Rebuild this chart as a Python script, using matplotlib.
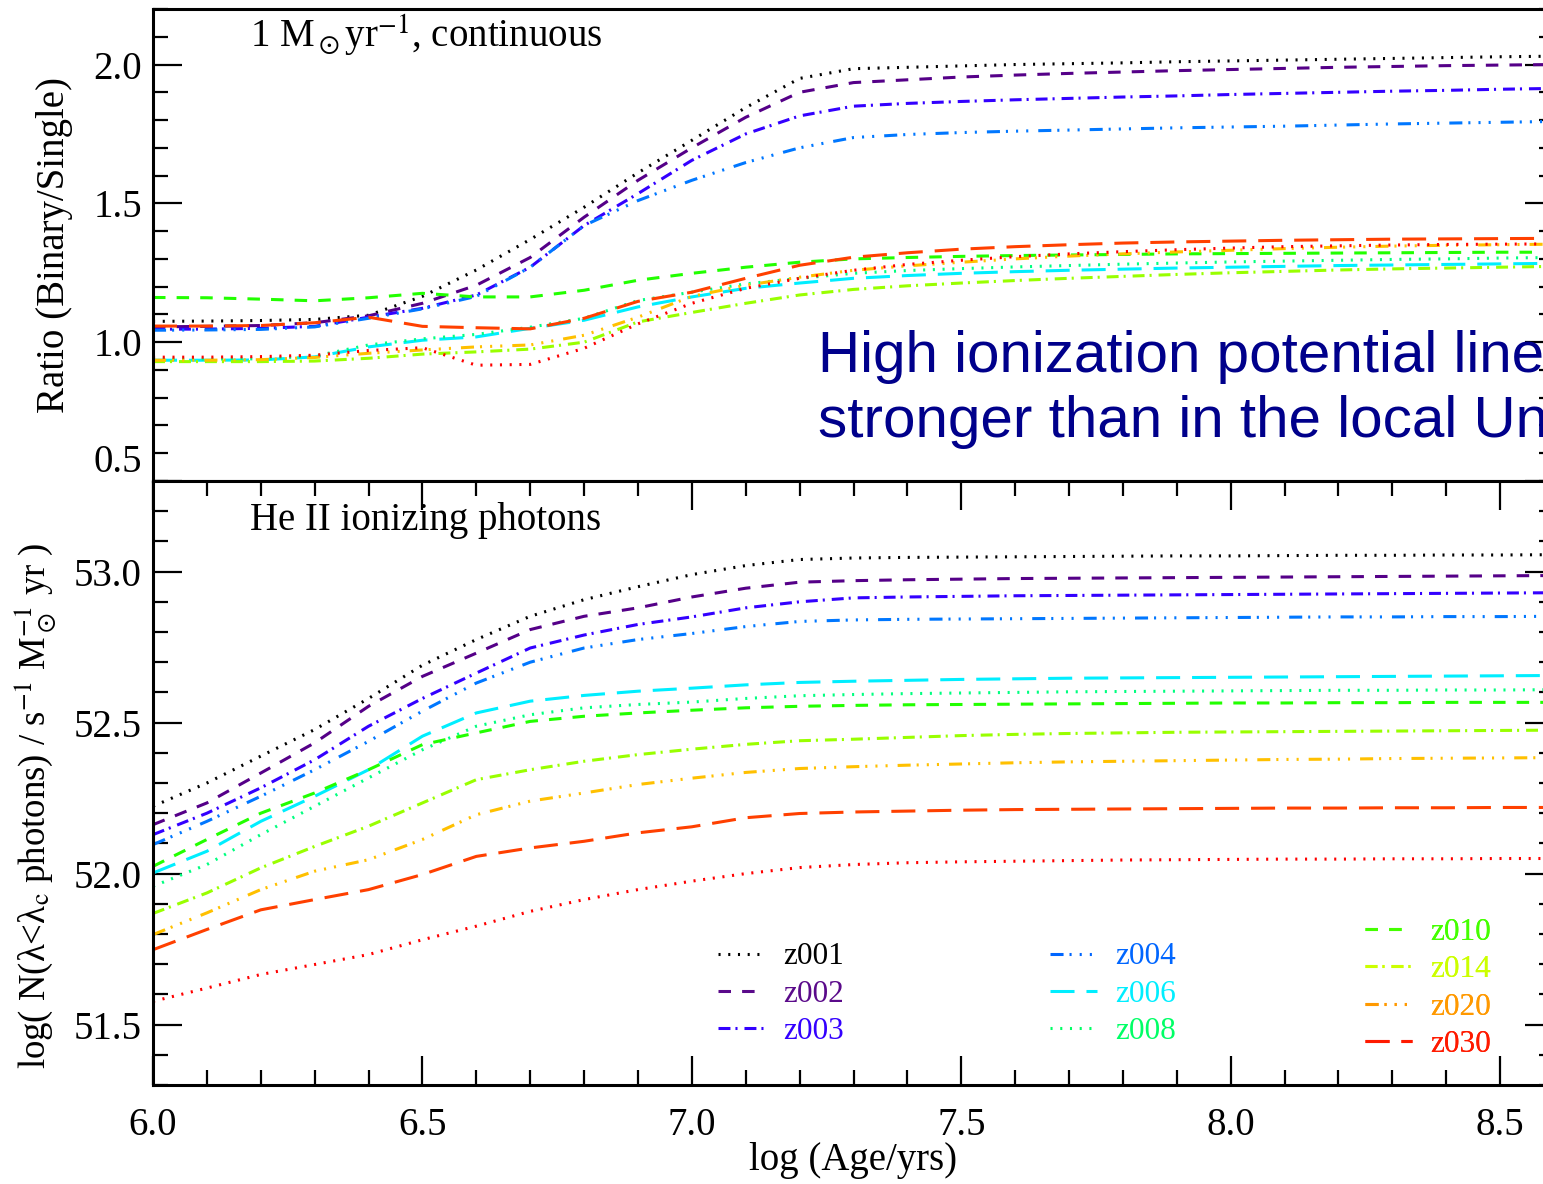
import matplotlib
matplotlib.use('Agg')
import matplotlib.pyplot as plt
from matplotlib.lines import Line2D
from matplotlib.ticker import MultipleLocator

plt.rcParams['font.family'] = ['Liberation Serif', 'DejaVu Serif']
plt.rcParams['mathtext.fontset'] = 'stix'
plt.rcParams['lines.scale_dashes'] = False

# ---- data ----
log_age = [6.0, 6.1, 6.2, 6.3, 6.4, 6.5, 6.6, 6.7, 6.8, 6.9, 7.0, 7.1, 7.2, 7.3,
           7.4, 7.5, 7.6, 7.7, 7.8, 7.9, 8.0, 8.1, 8.2, 8.3, 8.4, 8.5, 8.6]

models = ['z001', 'z002', 'z003', 'z004', 'z006', 'z008', 'z010', 'z014', 'z020', 'z030', 'z040']

# top panel: ratio binary / single
ratio_z001 = [1.075, 1.076, 1.078, 1.082, 1.097, 1.165, 1.26, 1.37, 1.486, 1.61, 1.727, 1.845, 1.95, 1.985,
              1.99, 1.995, 2.0, 2.003, 2.006, 2.01, 2.013, 2.016, 2.019, 2.022, 2.025, 2.028, 2.03]
ratio_z002 = [1.055, 1.057, 1.06, 1.07, 1.095, 1.14, 1.205, 1.305, 1.45, 1.583, 1.70, 1.81, 1.90, 1.935,
              1.945, 1.955, 1.962, 1.968, 1.973, 1.978, 1.982, 1.986, 1.99, 1.993, 1.996, 1.998, 2.0]
ratio_z003 = [1.047, 1.047, 1.05, 1.057, 1.09, 1.122, 1.17, 1.27, 1.42, 1.535, 1.655, 1.75, 1.815, 1.85,
              1.86, 1.867, 1.873, 1.878, 1.883, 1.887, 1.892, 1.896, 1.9, 1.904, 1.907, 1.911, 1.914]
ratio_z004 = [1.043, 1.044, 1.046, 1.055, 1.086, 1.12, 1.165, 1.27, 1.42, 1.51, 1.583, 1.647, 1.70, 1.737,
              1.748, 1.755, 1.76, 1.764, 1.768, 1.772, 1.775, 1.778, 1.782, 1.786, 1.789, 1.792, 1.795]
ratio_z006 = [0.935, 0.935, 0.936, 0.947, 0.983, 1.007, 1.019, 1.05, 1.079, 1.127, 1.163, 1.194, 1.213, 1.23,
              1.24, 1.248, 1.254, 1.259, 1.263, 1.267, 1.27, 1.273, 1.276, 1.278, 1.28, 1.282, 1.284]
ratio_z008 = [0.939, 0.939, 0.94, 0.95, 0.99, 1.012, 1.028, 1.054, 1.086, 1.15, 1.18, 1.21, 1.23, 1.248,
              1.258, 1.265, 1.271, 1.276, 1.281, 1.285, 1.289, 1.292, 1.295, 1.298, 1.3, 1.303, 1.305]
ratio_z010 = [1.161, 1.16, 1.155, 1.149, 1.16, 1.176, 1.163, 1.163, 1.187, 1.223, 1.248, 1.27, 1.288, 1.30,
              1.305, 1.309, 1.312, 1.314, 1.316, 1.318, 1.319, 1.32, 1.321, 1.322, 1.323, 1.324, 1.324]
ratio_z014 = [0.93, 0.93, 0.93, 0.932, 0.942, 0.957, 0.965, 0.975, 1.0, 1.073, 1.107, 1.14, 1.17, 1.19,
              1.203, 1.213, 1.222, 1.23, 1.237, 1.244, 1.25, 1.255, 1.26, 1.264, 1.267, 1.27, 1.273]
ratio_z020 = [0.935, 0.935, 0.937, 0.945, 0.96, 0.972, 0.983, 0.99, 1.025, 1.09, 1.165, 1.205, 1.234, 1.259,
              1.275, 1.288, 1.3, 1.31, 1.318, 1.325, 1.331, 1.337, 1.342, 1.346, 1.349, 1.351, 1.353]
ratio_z030 = [1.058, 1.058, 1.06, 1.07, 1.09, 1.057, 1.052, 1.048, 1.086, 1.147, 1.18, 1.23, 1.277, 1.306,
              1.322, 1.335, 1.344, 1.351, 1.357, 1.361, 1.364, 1.367, 1.369, 1.371, 1.372, 1.373, 1.374]
ratio_z040 = [0.946, 0.946, 0.948, 0.953, 0.97, 0.98, 0.917, 0.92, 0.978, 1.066, 1.14, 1.194, 1.23, 1.259,
              1.28, 1.295, 1.308, 1.318, 1.326, 1.333, 1.339, 1.344, 1.347, 1.35, 1.352, 1.353, 1.354]

# bottom panel: log N(HeII ionizing photons)
nphot_z001 = [52.223, 52.30, 52.389, 52.477, 52.58, 52.69, 52.775, 52.852, 52.907, 52.95, 52.99, 53.02, 53.04, 53.045,
              53.047, 53.048, 53.049, 53.05, 53.051, 53.052, 53.052, 53.053, 53.054, 53.054, 53.055, 53.055, 53.056]
nphot_z002 = [52.162, 52.234, 52.333, 52.433, 52.554, 52.653, 52.73, 52.808, 52.852, 52.88, 52.916, 52.945, 52.965, 52.97,
              52.973, 52.975, 52.977, 52.978, 52.979, 52.98, 52.981, 52.982, 52.983, 52.984, 52.985, 52.986, 52.987]
nphot_z003 = [52.129, 52.20, 52.284, 52.377, 52.488, 52.58, 52.664, 52.747, 52.79, 52.825, 52.85, 52.88, 52.90, 52.913,
              52.916, 52.918, 52.92, 52.921, 52.922, 52.923, 52.924, 52.925, 52.926, 52.927, 52.928, 52.929, 52.93]
nphot_z004 = [52.096, 52.173, 52.256, 52.344, 52.438, 52.538, 52.631, 52.70, 52.747, 52.775, 52.795, 52.818, 52.835, 52.84,
              52.842, 52.843, 52.844, 52.845, 52.846, 52.847, 52.848, 52.849, 52.85, 52.85, 52.851, 52.851, 52.852]
nphot_z006 = [52.002, 52.074, 52.173, 52.256, 52.344, 52.455, 52.532, 52.571, 52.59, 52.604, 52.614, 52.625, 52.633, 52.637,
              52.64, 52.643, 52.645, 52.647, 52.648, 52.649, 52.65, 52.651, 52.652, 52.653, 52.654, 52.655, 52.656]
nphot_z008 = [51.958, 52.03, 52.129, 52.223, 52.317, 52.41, 52.488, 52.526, 52.549, 52.56, 52.568, 52.58, 52.589, 52.593,
              52.596, 52.598, 52.6, 52.602, 52.603, 52.604, 52.605, 52.606, 52.607, 52.607, 52.608, 52.608, 52.609]
nphot_z010 = [52.024, 52.113, 52.20, 52.267, 52.344, 52.427, 52.466, 52.504, 52.521, 52.532, 52.541, 52.549, 52.554, 52.557,
              52.559, 52.56, 52.561, 52.562, 52.563, 52.564, 52.565, 52.565, 52.566, 52.566, 52.567, 52.567, 52.567]
nphot_z014 = [51.868, 51.936, 52.019, 52.09, 52.157, 52.234, 52.311, 52.344, 52.372, 52.394, 52.412, 52.428, 52.44, 52.445,
              52.451, 52.457, 52.461, 52.464, 52.466, 52.468, 52.469, 52.47, 52.471, 52.472, 52.473, 52.474, 52.475]
nphot_z020 = [51.798, 51.87, 51.947, 52.008, 52.046, 52.113, 52.195, 52.24, 52.267, 52.295, 52.316, 52.335, 52.348, 52.354,
              52.359, 52.363, 52.367, 52.37, 52.372, 52.374, 52.376, 52.378, 52.379, 52.381, 52.382, 52.383, 52.384]
nphot_z030 = [51.748, 51.815, 51.88, 51.914, 51.947, 51.997, 52.057, 52.085, 52.107, 52.135, 52.155, 52.185, 52.199, 52.204,
              52.207, 52.21, 52.212, 52.213, 52.214, 52.215, 52.216, 52.217, 52.217, 52.218, 52.218, 52.219, 52.219]
nphot_z040 = [51.577, 51.621, 51.666, 51.699, 51.732, 51.781, 51.826, 51.875, 51.914, 51.947, 51.975, 52.0, 52.02, 52.03,
              52.036, 52.039, 52.041, 52.043, 52.045, 52.046, 52.047, 52.048, 52.048, 52.049, 52.049, 52.05, 52.05]

ratios = [ratio_z001, ratio_z002, ratio_z003, ratio_z004, ratio_z006, ratio_z008,
          ratio_z010, ratio_z014, ratio_z020, ratio_z030, ratio_z040]
nphots = [nphot_z001, nphot_z002, nphot_z003, nphot_z004, nphot_z006, nphot_z008,
          nphot_z010, nphot_z014, nphot_z020, nphot_z030, nphot_z040]

# ---- styles ----
line_colors = ['black', '#550088', '#3300ff', '#0077ff', '#00eeff', '#00ff80',
               '#22ff00', '#99ff00', '#ffc000', '#ff4000', '#ff0000']
legend_colors = ['black', '#5a0a8a', '#3300ff', '#0066ff', '#00eeff', '#00ff66',
                 '#44ff00', '#ccff00', '#ff9900', '#ff1a00']

DOT = (0, (1.5, 5.5))
DASH = (0, (9, 8))
DASHDOT = (0, (8.6, 3.6, 1.5, 5))
DASH3DOT = (0, (9.4, 4.3, 1.5, 5.8, 1.5, 5.8, 1.5, 7.2))
LONGDASH = (0, (17.3, 8.6))
styles = [DOT, DASH, DASHDOT, DASH3DOT, LONGDASH] * 2 + [DOT]

LW = 2.2
FS = 28

fig = plt.figure(figsize=(15.43, 11.84), dpi=100)
ax1 = fig.add_axes([0.09916, 0.59375, 0.90797, 0.39865])
ax2 = fig.add_axes([0.09916, 0.08361, 0.90797, 0.51014])

for i in range(len(models)):
    ax1.plot(log_age, ratios[i], color=line_colors[i], linestyle=styles[i], lw=LW)
    ax2.plot(log_age, nphots[i], color=line_colors[i], linestyle=styles[i], lw=LW)

for ax in (ax1, ax2):
    ax.set_xlim(6.0, 8.6)
    for s in ax.spines.values():
        s.set_linewidth(2.2)
    ax.xaxis.set_major_locator(MultipleLocator(0.5))
    ax.xaxis.set_minor_locator(MultipleLocator(0.1))
    ax.yaxis.set_major_locator(MultipleLocator(0.5))
    ax.yaxis.set_minor_locator(MultipleLocator(0.1))
    ax.tick_params(which='both', direction='in', width=1.6, left=True, right=True,
                   labelsize=FS, pad=8)
    ax.tick_params(which='major', length=21)
    ax.tick_params(which='minor', length=11)

ax1.set_ylim(0.5, 2.2)
ax1.tick_params(axis='x', which='both', bottom=False, top=False, labelbottom=False)
ax1.yaxis.set_major_formatter(matplotlib.ticker.FormatStrFormatter('%.1f'))
ax1.set_ylabel('Ratio (Binary/Single)', fontsize=FS)
ax1.yaxis.set_label_coords(-0.057, 0.5)
ax1.text(0.069, 0.919, r'1 M$_\odot$yr$^{-1}$, continuous', transform=ax1.transAxes,
         fontsize=FS, va='baseline')

ax2.set_ylim(51.3, 53.3)
ax2.tick_params(axis='x', which='both', bottom=True, top=True, pad=16)
ax2.xaxis.set_major_formatter(matplotlib.ticker.FormatStrFormatter('%.1f'))
ax2.yaxis.set_major_formatter(matplotlib.ticker.FormatStrFormatter('%.1f'))
ax2.set_xlabel('log (Age/yrs)', fontsize=FS)
ax2.xaxis.set_label_coords(0.5, -0.094)
ax2.set_ylabel(r'log( N(λ<λ$_\mathrm{c}$ photons) / s$^{-1}$ M$_\odot^{-1}$ yr )', fontsize=26.5)
ax2.yaxis.set_label_coords(-0.067, 0.462)
ax2.text(0.069, 0.919, 'He II ionizing photons', transform=ax2.transAxes,
         fontsize=FS, va='baseline')

# lowest label of the top panel sits above its tick
fig.canvas.draw()
for lab in ax1.get_yticklabels():
    if lab.get_text() == '0.5':
        lab.set_va('bottom')

# legends in three groups
handles = [Line2D([], [], color=legend_colors[i], linestyle=styles[i], lw=LW)
           for i in range(10)]
groups = [(0, 3, 0.403, 0.236), (3, 6, 0.640, 0.236), (6, 10, 0.865, 0.276)]
for a, b, lx, ly in groups:
    leg = ax2.legend(handles[a:b], models[a:b], loc='upper left', bbox_to_anchor=(lx, ly),
                     frameon=False, fontsize=22.5, handlelength=1.5, handletextpad=0.6,
                     labelspacing=0.26, borderpad=0, borderaxespad=0,
                     labelcolor=legend_colors[a:b])
    ax2.add_artist(leg)

# annotation (cut at the right edge, as in the original slide)
fig.text(818 / 1543, 1 - 372 / 1184, 'High ionization potential lines are',
         fontsize=42, family='Liberation Sans', color='#00008b', va='baseline')
fig.text(818 / 1543, 1 - 437 / 1184, 'stronger than in the local Universe',
         fontsize=42, family='Liberation Sans', color='#00008b', va='baseline')

fig.savefig('out.png', dpi=100)
